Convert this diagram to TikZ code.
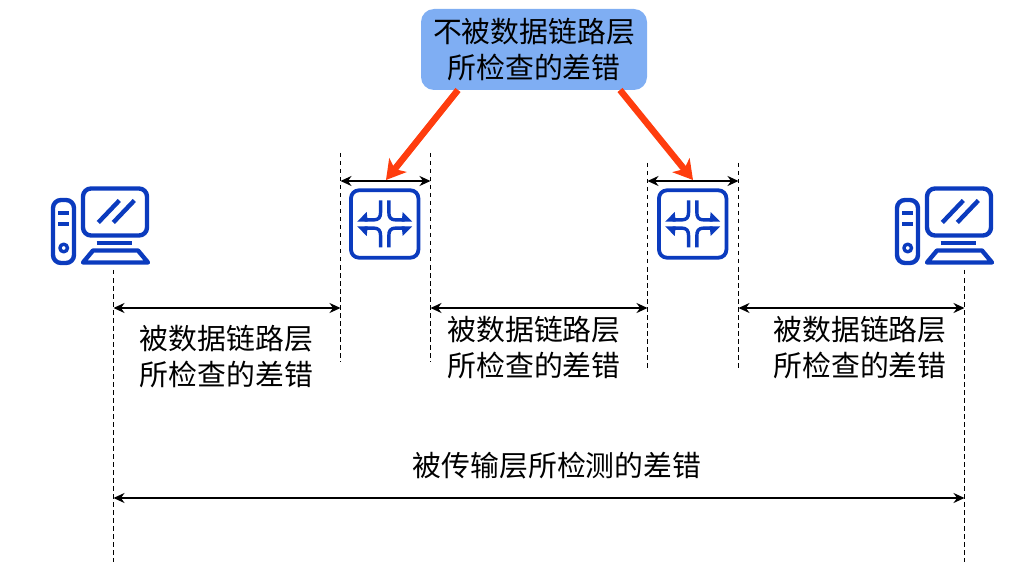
\documentclass[tikz,border=0pt]{standalone}
\usepackage{fontspec}
\setmainfont{Noto Sans CJK SC}
\usetikzlibrary{arrows.meta}
\definecolor{iconblue}{HTML}{0B3BBE}
\definecolor{boxblue}{HTML}{7FAEF3}
\definecolor{arrowred}{HTML}{FF3D0E}
\tikzset{
  x=1pt,y=-1pt,
  label/.style={font=\fontsize{28.85}{36}\selectfont,align=center,inner sep=0pt,text=black},
  bubble/.style={label,fill=boxblue,rounded corners=13pt,minimum width=226pt,minimum height=81pt},
  guide/.style={black,line width=0.9pt,dash pattern=on 4.5pt off 3.5pt},
  span/.style={black,line width=1.9pt,{Stealth[length=11pt,width=10pt]}-{Stealth[length=11pt,width=10pt]}},
  callout/.style={arrowred,line width=6.5pt,-{Stealth[length=19pt,width=22pt,inset=5pt]},shorten >=0pt},
  iconline/.style={iconblue,line width=4.4pt,line join=round},
  routerline/.style={iconblue,line width=3.4pt,line join=round},
  computer/.pic={
    \draw[iconline,rounded corners=8pt] (32,-10.5) rectangle (96,36.5);
    \draw[iconline,rounded corners=8pt] (2,1) rectangle (23,64);
    \draw[iconline] (7,14) -- (18,14) (7,25) -- (18,25);
    \draw[iconline,line width=3.4pt] (12.7,49) circle (3.8);
    \draw[iconline] (47.3,23.5) -- (68.3,1.5) (62.3,23.5) -- (83.3,1.5);
    \draw[iconline] (45.7,44) -- (81,44);
    \draw[iconline] (42,51.5) -- (87,51.5) -- (97,63.5) -- (32,63.5) -- cycle;
  },
  router/.pic={
    \draw[iconline,line width=3.8pt,rounded corners=8pt] (-33.7,-33.7) rectangle (33.7,33.7);
    \foreach \sx/\sy in {1/1,-1/1,1/-1,-1/-1}{
      \draw[routerline]
        (-4.1*\sx,-23.5*\sy) -- (-4.1*\sx,-12*\sy) .. controls (-4.1*\sx,-6.5*\sy) and (-6*\sx,-4.1*\sy) .. (-11*\sx,-4.1*\sy) -- (-20*\sx,-4.1*\sy);
      \fill[iconblue] (-27.5*\sx,-2.4*\sy) -- (-18*\sx,-12*\sy) -- (-17*\sx,-2.4*\sy) -- cycle;
    }
  }
}
\begin{document}
\begin{tikzpicture}
\useasboundingbox (0,0) rectangle (1015,588);
% icons
\pic at (51,199) {computer};
\pic at (895,199) {computer};
\pic at (384.7,224) {router};
\pic at (692.7,224) {router};
% named ends
\coordinate (l1t) at (340.5,153); \coordinate (l1b) at (340.5,362);
\coordinate (r1t) at (430.5,153); \coordinate (r1b) at (430.5,362);
\coordinate (l2t) at (647.5,163); \coordinate (l2b) at (647.5,371);
\coordinate (r2t) at (738.5,163); \coordinate (r2b) at (738.5,371);
\coordinate (hlt) at (113.5,270); \coordinate (hlb) at (113.5,562);
\coordinate (hrt) at (964.5,270); \coordinate (hrb) at (964.5,562);
\coordinate (a1l) at (340.5,181); \coordinate (a1r) at (430.5,181);
\coordinate (a2l) at (647.5,181); \coordinate (a2r) at (738.5,181);
\coordinate (s1l) at (113.5,308); \coordinate (s1r) at (340.5,308);
\coordinate (s2l) at (430.5,308); \coordinate (s2r) at (647.5,308);
\coordinate (s3l) at (738.5,308); \coordinate (s3r) at (964.5,308);
\coordinate (tl) at (113.5,498); \coordinate (tr) at (964.5,498);
\coordinate (c1s) at (458,90); \coordinate (c1e) at (386,180);
\coordinate (c2s) at (620,90); \coordinate (c2e) at (693,180);
% guides
\foreach \n in {l1,r1,l2,r2,hl,hr}{ \draw[guide] (\n t) -- (\n b); }
% spans
\draw[span] (a1l) -- (a1r);
\draw[span] (a2l) -- (a2r);
\draw[span] (s1l) -- (s1r);
\draw[span] (s2l) -- (s2r);
\draw[span] (s3l) -- (s3r);
\draw[span] (tl) -- (tr);
% callout
\node[bubble] (top) at (534,49.5) {不被数据链路层\\所检查的差错};
\draw[callout] (c1s) -- (c1e);
\draw[callout] (c2s) -- (c2e);
% labels
\node[label] (t1) at (226.5,357) {被数据链路层\\所检查的差错};
\node[label] (t2) at (534,348) {被数据链路层\\所检查的差错};
\node[label] (t3) at (860,348) {被数据链路层\\所检查的差错};
\node[label] (t4) at (557,466) {被传输层所检测的差错};
\end{tikzpicture}
\end{document}
